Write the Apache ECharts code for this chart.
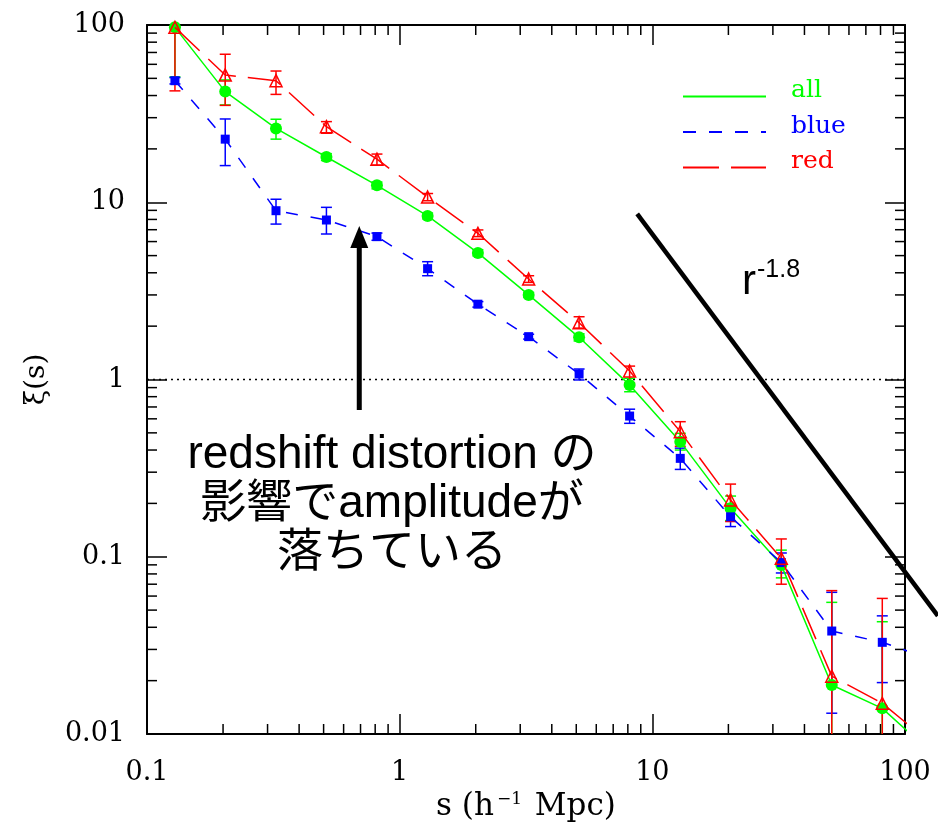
<!DOCTYPE html>
<html>
<head>
<meta charset="utf-8">
<style>html,body{margin:0;padding:0;background:#fff;}#c{width:938px;height:823px;}</style>
<script src="https://cdn.jsdelivr.net/npm/echarts@6/dist/echarts.min.js"></script>
</head>
<body>
<div id="c"></div>
<script>
// separations s (h^-1 Mpc); last point lies beyond the plotted range (clipped)
const sVals = [0.129, 0.204, 0.324, 0.513, 0.813, 1.29, 2.04, 3.24, 5.13, 8.13, 12.9, 20.4, 32.4, 51.3, 81.3, 129];

const allXi = [97, 42.1, 26.1, 18.0, 12.46, 8.37, 5.18, 3.00, 1.73, 0.93, 0.446, 0.1875, 0.0897, 0.0189, 0.01396, 0.0077];
const allLo = [51, 35.4, 22.7, 17.2, 11.9, 8.05, 4.98, 2.9, 1.65, 0.853, 0.40, 0.160, 0.076, 0.001, 0.001];
const allHi = [97, 49, 29.4, 18.8, 13.0, 8.7, 5.4, 3.1, 1.81, 1.016, 0.497, 0.220, 0.109, 0.0553, 0.043];

const blueXi = [48.5, 22.7, 8.96, 7.94, 6.40, 4.22, 2.66, 1.745, 1.074, 0.622, 0.359, 0.168, 0.0927, 0.0381, 0.0329, 0.0262];
const blueLo = [46.5, 16.1, 7.53, 6.62, 6.1, 3.85, 2.56, 1.69, 0.994, 0.566, 0.311, 0.148, 0.081, 0.0131, 0.0195];
const blueHi = [50.5, 29.5, 10.4, 9.36, 6.7, 4.62, 2.75, 1.80, 1.146, 0.68, 0.41, 0.185, 0.105, 0.063, 0.0464];

const redXi = [97, 52.2, 48.5, 26.7, 17.5, 10.7, 6.68, 3.69, 2.09, 1.117, 0.508, 0.209, 0.098, 0.0212, 0.0149, 0.00867];
const redLo = [42.5, 35.2, 40.6, 24.5, 16.2, 10.2, 6.4, 3.53, 1.95, 0.955, 0.42, 0.158, 0.070, 0.001, 0.001];
const redHi = [97, 68.4, 55, 28.5, 18.7, 11.2, 6.98, 3.85, 2.26, 1.19, 0.578, 0.257, 0.126, 0.0644, 0.0582];

// r^-1.8 guide line (x0, y0, x1, y1), xi = 1 reference line, arrow (x, bottom, tip)
const powerLine = [[8.71, 8.59, 134.9, 0.0464]];
const unityLine = [[0.1, 1], [100, 1]];
const arrowData = [[0.692, 0.673, 7.35]];

// tick values
const xMinor = [0.2,0.3,0.4,0.5,0.6,0.7,0.8,0.9, 2,3,4,5,6,7,8,9, 20,30,40,50,60,70,80,90];
const yMinor = [0.02,0.03,0.04,0.05,0.06,0.07,0.08,0.09, 0.2,0.3,0.4,0.5,0.6,0.7,0.8,0.9, 2,3,4,5,6,7,8,9, 20,30,40,50,60,70,80,90];

const serif = 'DejaVu Serif';
const sans = '"Liberation Sans", Arial, "Noto Sans CJK JP"';

const pts = (ys) => sVals.map((x, i) => [x, ys[i]]);
const errs = (lo, hi) => lo.map((l, i) => [sVals[i], l, hi[i]]);

function errRender(color) {
  return function (params, api) {
    const x = api.value(0), lo = api.value(1), hi = api.value(2);
    const a = api.coord([x, lo]), b = api.coord([x, hi]);
    const w = 5.5;
    const st = { stroke: color, lineWidth: 1.5 };
    return { type: 'group', children: [
      { type: 'line', shape: { x1: a[0], y1: a[1], x2: b[0], y2: b[1] }, style: st },
      { type: 'line', shape: { x1: a[0] - w, y1: a[1], x2: a[0] + w, y2: a[1] }, style: st },
      { type: 'line', shape: { x1: b[0] - w, y1: b[1], x2: b[0] + w, y2: b[1] }, style: st }
    ]};
  };
}

const chart = echarts.init(document.getElementById('c'), null, { renderer: 'canvas', width: 938, height: 823 });

const axisCommon = {
  type: 'log', logBase: 10,
  axisLine: { show: true, lineStyle: { color: '#000', width: 2 } },
  axisTick: { show: true, inside: true, length: 20, lineStyle: { color: '#000', width: 1.5 } },
  splitLine: { show: false },
  minorTick: { show: false },
  axisLabel: { show: false }
};

const option = {
  backgroundColor: '#fff',
  animation: false,
  grid: { left: 147, top: 25, width: 758, height: 709, containLabel: false, outerBoundsMode: 'none' },
  xAxis: [
    Object.assign({}, axisCommon, {
      min: 0.1, max: 100, position: 'bottom',
      axisLabel: { show: true, margin: 25, color: '#000', fontFamily: serif, fontSize: 27,
        formatter: (v) => String(v) },
      name: '{a|s (h}{b|−1}{a| Mpc)}', nameLocation: 'middle', nameGap: 53,
      nameTextStyle: { rich: {
        a: { fontFamily: serif, fontSize: 31, color: '#000' },
        b: { fontFamily: serif, fontSize: 17, color: '#000', padding: [0, 3, 16, 3] }
      } }
    }),
    Object.assign({}, axisCommon, { min: 0.1, max: 100, position: 'top' })
  ],
  yAxis: [
    Object.assign({}, axisCommon, {
      min: 0.01, max: 100, position: 'left',
      axisLabel: { show: true, margin: 22, color: '#000', fontFamily: serif, fontSize: 27,
        formatter: (v) => String(v) },
      name: 'ξ(s)', nameLocation: 'middle', nameGap: 96, nameRotate: 90,
      nameTextStyle: { fontFamily: serif, fontSize: 28, color: '#000' }
    }),
    Object.assign({}, axisCommon, { min: 0.01, max: 100, position: 'right' })
  ],
  legend: {
    show: true, orient: 'vertical', left: 677, top: 73,
    itemWidth: 83, itemHeight: 14, itemGap: -1.5, selectedMode: false,
    itemStyle: { opacity: 0 },
    data: [
      { name: 'all', textStyle: { color: '#00ff00' } },
      { name: 'blue', textStyle: { color: '#0000ff' } },
      { name: 'red', textStyle: { color: '#ff0000' } }
    ],
    formatter: '{t|{name}}',
    textStyle: { fontFamily: serif, fontSize: 25,
      rich: { t: { fontFamily: serif, fontSize: 25, lineHeight: 25, padding: [0, 0, 12, 20] } } }
  },
  graphic: [
    { type: 'text', x: 392, y: 504, silent: true, style: {
      text: 'redshift distortion の\n影響でamplitudeが\n落ちている',
      fontFamily: sans, fontSize: 46, lineHeight: 49, fill: '#000',
      textAlign: 'center', textVerticalAlign: 'middle' } },
    { type: 'text', x: 742, y: 282, silent: true, style: {
      text: '{r|r}{e|-1.8}',
      rich: {
        r: { fontFamily: sans, fontSize: 42, fill: '#000' },
        e: { fontFamily: sans, fontSize: 25, fill: '#000', padding: [0, 0, 24, 1] }
      },
      textAlign: 'left', textVerticalAlign: 'middle' } }
  ],
  series: [
    // minor ticks
    { type: 'custom', silent: true, clip: false, data: xMinor.map(v => [v, 1]), encode: { x: 0, y: 1 },
      renderItem: (p, api) => {
        const v = api.value(0); const b = api.coord([v, 0.01]); const t = api.coord([v, 100]);
        const st = { stroke: '#000', lineWidth: 1.5 };
        return { type: 'group', children: [
          { type: 'line', shape: { x1: b[0], y1: b[1], x2: b[0], y2: b[1] - 10 }, style: st },
          { type: 'line', shape: { x1: t[0], y1: t[1], x2: t[0], y2: t[1] + 10 }, style: st } ] };
      } },
    { type: 'custom', silent: true, clip: false, data: yMinor.map(v => [1, v]), encode: { x: 0, y: 1 },
      renderItem: (p, api) => {
        const v = api.value(1); const l = api.coord([0.1, v]); const r = api.coord([100, v]);
        const st = { stroke: '#000', lineWidth: 1.5 };
        return { type: 'group', children: [
          { type: 'line', shape: { x1: l[0], y1: l[1], x2: l[0] + 10, y2: l[1] }, style: st },
          { type: 'line', shape: { x1: r[0], y1: r[1], x2: r[0] - 10, y2: r[1] }, style: st } ] };
      } },
    // xi = 1 dotted line
    { type: 'line', data: unityLine, symbol: 'none', silent: true,
      lineStyle: { color: '#000', width: 1.3, type: [2, 4] }, z: 1 },
    // error bars
    { type: 'custom', name: 'allErr', silent: true, clip: true, data: errs(allLo, allHi), encode: { x: 0, y: [1, 2] }, renderItem: errRender('#00ff00'), z: 2 },
    { type: 'custom', name: 'blueErr', silent: true, clip: true, data: errs(blueLo, blueHi), encode: { x: 0, y: [1, 2] }, renderItem: errRender('#0000ff'), z: 2 },
    { type: 'custom', name: 'redErr', silent: true, clip: true, data: errs(redLo, redHi), encode: { x: 0, y: [1, 2] }, renderItem: errRender('#ff0000'), z: 2 },
    // data lines
    { type: 'line', name: 'allData', data: pts(allXi), clip: true, symbol: 'circle', symbolSize: 12,
      itemStyle: { color: '#00ff00' }, lineStyle: { color: '#00ff00', width: 1.5, type: 'solid' }, z: 3 },
    { type: 'line', name: 'blueData', data: pts(blueXi), clip: true, symbol: 'rect', symbolSize: 9,
      itemStyle: { color: '#0000ff' }, lineStyle: { color: '#0000ff', width: 1.5, type: [12, 13] }, z: 3 },
    { type: 'line', name: 'redData', data: pts(redXi), clip: true, symbol: 'triangle', symbolSize: 12,
      itemStyle: { color: 'rgba(255,255,255,0)', borderColor: '#ff0000', borderWidth: 1.5 },
      lineStyle: { color: '#ff0000', width: 1.5, type: [34, 12] }, z: 4 },
    // legend proxies
    { type: 'line', name: 'all', data: [], symbol: 'none', itemStyle: { color: '#00ff00' }, lineStyle: { color: '#00ff00', width: 1.5, type: 'solid' } },
    { type: 'line', name: 'blue', data: [], symbol: 'none', itemStyle: { color: '#0000ff' }, lineStyle: { color: '#0000ff', width: 1.5, type: [13, 13] } },
    { type: 'line', name: 'red', data: [], symbol: 'none', itemStyle: { color: '#ff0000' }, lineStyle: { color: '#ff0000', width: 1.5, type: [36, 12] } },
    // r^-1.8 guide (extends past the frame, as in the original)
    { type: 'custom', silent: true, clip: false, data: powerLine, encode: { x: [0, 2], y: [1, 3] },
      renderItem: (p, api) => {
        const a = api.coord([api.value(0), api.value(1)]);
        const b = api.coord([api.value(2), api.value(3)]);
        return { type: 'line', shape: { x1: a[0], y1: a[1], x2: b[0], y2: b[1] }, style: { stroke: '#000', lineWidth: 4.5 } };
      }, z: 5 },
    // arrow
    { type: 'custom', silent: true, clip: false, data: arrowData, encode: { x: 0, y: [1, 2] },
      renderItem: (p, api) => {
        const x = api.value(0);
        const a = api.coord([x, api.value(1)]), b = api.coord([x, api.value(2)]);
        const headH = 22, headW = 18, shaft = 5;
        return { type: 'group', children: [
          { type: 'rect', shape: { x: a[0] - shaft / 2, y: b[1] + headH - 1, width: shaft, height: a[1] - b[1] - headH + 1 }, style: { fill: '#000' } },
          { type: 'polygon', shape: { points: [[b[0], b[1]], [b[0] - headW / 2, b[1] + headH], [b[0] + headW / 2, b[1] + headH]] }, style: { fill: '#000' } }
        ] };
      }, z: 6 }
  ]
};
chart.setOption(option);
</script>
</body>
</html>
